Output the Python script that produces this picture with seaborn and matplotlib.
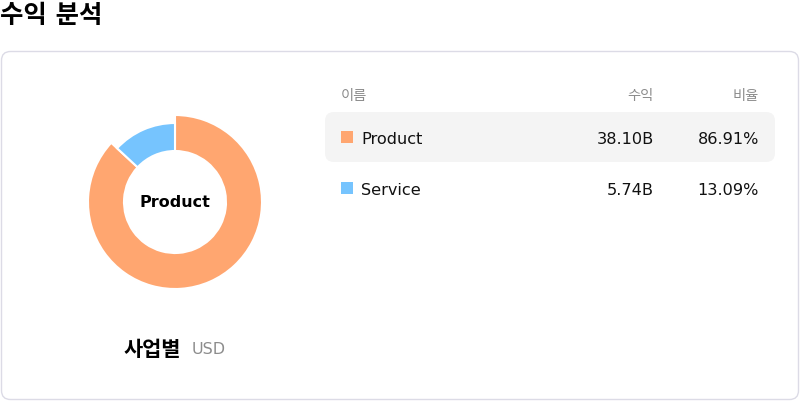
import matplotlib.pyplot as plt
import seaborn as sns
from matplotlib.patches import FancyBboxPatch, Rectangle

# data
names = ['Product', 'Service']
revenue_b = [38.10, 5.74]
share_pct = [86.91, 13.09]
headers = ['이름', '수익', '비율']
title = '수익 분석'
chart_label = '사업별'
currency = 'USD'

sns.set_theme(style="white")
plt.rcParams['font.family'] = ['DejaVu Sans', 'Noto Sans CJK KR']
colors = ['#FFA670', '#76C4FE']

fig = plt.figure(figsize=(8, 4.02), dpi=100)
ax = fig.add_axes([0, 0, 1, 1])

# donut (y axis inverted later -> counterclock in data = clockwise on screen)
wedges, _ = ax.pie(revenue_b, colors=colors, startangle=-90, counterclock=True,
                   center=(175, 203), radius=87,
                   wedgeprops=dict(width=36, edgecolor='white', linewidth=1.5))
wedges[1].set_radius(79)
wedges[1].set_width(28)
ax.text(175, 203, names[0], ha='center', va='center', fontsize=11.5,
        fontweight='bold', color='black')

ax.set_xlim(0, 800)
ax.set_ylim(402, 0)
ax.set_aspect('equal')
ax.axis('off')

# card
card = FancyBboxPatch((1.5, 52.5), 797, 348, boxstyle="round,pad=0,rounding_size=9",
                      facecolor='white', edgecolor='#dcdbe6', linewidth=1, zorder=0)
ax.add_patch(card)

# title
ax.text(0, 16, title, ha='left', va='center', fontsize=18.3, fontweight='bold',
        color='black')

# bottom label
ax.text(124, 350, chart_label, ha='left', va='center', fontsize=15,
        fontweight='bold', color='black')
ax.text(192, 350, currency, ha='left', va='center', fontsize=11.5, color='#8c8c8c')

# table
ax.text(341, 96, headers[0], ha='left', va='center', fontsize=10.3, color='#8c8c8c')
ax.text(654, 96, headers[1], ha='right', va='center', fontsize=10.3, color='#8c8c8c')
ax.text(759, 96, headers[2], ha='right', va='center', fontsize=10.3, color='#8c8c8c')

hl = FancyBboxPatch((325, 113), 450, 50, boxstyle="round,pad=0,rounding_size=9",
                    facecolor='#f4f4f4', edgecolor='none', zorder=1)
ax.add_patch(hl)

row_y = [138, 189]
for i, name in enumerate(names):
    y = row_y[i]
    ax.add_patch(Rectangle((341, y - 6), 12, 12, facecolor=colors[i],
                           edgecolor='none', zorder=2))
    ax.text(361, y + 1.2, name, ha='left', va='center', fontsize=11.6, color='#111111', zorder=3)
    ax.text(654, y + 1.2, f"{revenue_b[i]:.2f}B", ha='right', va='center', fontsize=11.6,
            color='#111111', zorder=3)
    ax.text(759, y + 1.2, f"{share_pct[i]:.2f}%", ha='right', va='center', fontsize=11.6,
            color='#111111', zorder=3)

fig.savefig('out.png', dpi=100, facecolor='white')
